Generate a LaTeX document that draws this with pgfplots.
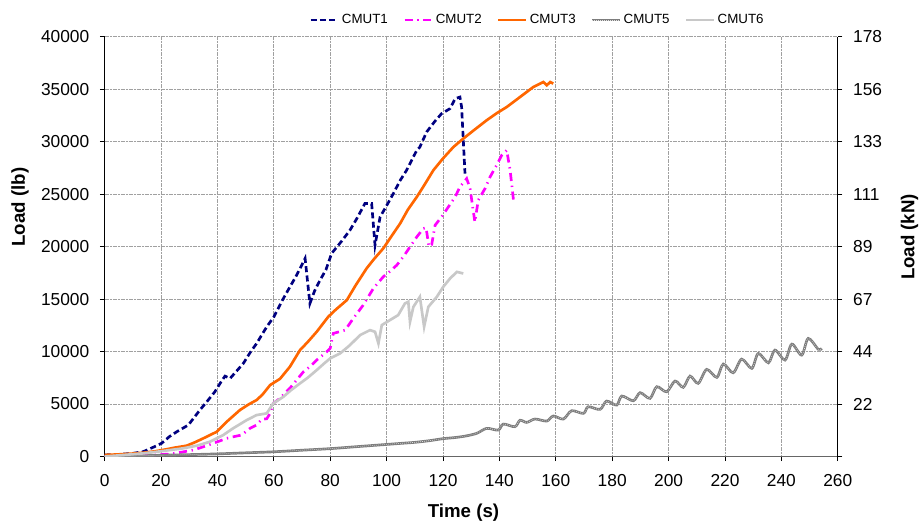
\documentclass[border=0pt]{standalone}
\usepackage{pgfplots}
\pgfplotsset{compat=1.18}
\usepackage{fontspec}
\setmainfont{Liberation Sans}
\definecolor{c1}{RGB}{0,0,128}
\definecolor{c2}{RGB}{255,0,255}
\definecolor{c3}{RGB}{255,102,0}
\definecolor{c5}{RGB}{125,125,125}
\definecolor{c6}{RGB}{200,200,200}
\definecolor{gridc}{RGB}{160,160,160}
\begin{document}
\begin{tikzpicture}
\path[use as bounding box] (-78.45pt,-52.125pt) rectangle (612.3pt,342.375pt);
\begin{axis}[
  at={(0pt,0pt)}, anchor=south west,
  scale only axis, width=549.9pt, height=314.85pt,
  xmin=0, xmax=260, ymin=0, ymax=40000,
  axis x line=bottom, axis y line=left,
  axis line style={-},
  y axis line style={black, line width=0.9pt},
  x axis line style={black!60, line width=1.4pt},
  xtick={0,20,...,260}, ytick={0,5000,...,40000},
  scaled y ticks=false, scaled x ticks=false,
  grid=major,
  major grid style={gridc, line width=0.6pt, dash pattern=on 1.5pt off 0.5pt},
  tick align=outside, major tick length=3.5pt,
  tick style={black, line width=0.6pt},
  /pgf/number format/assume math mode=true,
  y tick label style={/pgf/number format/1000 sep={}, xshift=-4.5pt},
  x tick label style={yshift=-6.5pt},
  tick label style={font=\fontsize{13}{15}\selectfont},
  xlabel={Time (s)}, ylabel={Load (lb)},
  label style={font=\bfseries\fontsize{14}{16}\selectfont},
  xlabel style={at={(axis description cs:0.4895,-0.1346)}, anchor=center},
  ylabel style={at={(axis description cs:-0.1154,0.594)}, anchor=center},
  legend style={at={(0.2788,1)}, anchor=west, yshift=12.5pt, draw=none, fill=none,
    inner sep=0pt, font=\fontsize{10}{12}\selectfont,
    nodes={inner sep=1.5pt},
    /tikz/every even column/.append style={column sep=10pt}},
  legend columns=5,
  legend image code/.code={\draw[#1] (0pt,0pt) -- (21pt,0pt);},
]
\addplot[c1, line width=2pt, dash pattern=on 4.5pt off 2.5pt] coordinates {
(0,150) (5,200) (10,300) (13.7,460) (17,850) (20.2,1255) (23,1900) (25.6,2360) (29.7,3000) (33.8,4430) (36.5,5300) (39.1,6170) (41.5,7200) (42.7,7660) (44.5,7440) (47,8200) (49.2,8870) (51.6,9900) (53.9,10770) (57.5,12360) (60,13300) (63.4,15060) (65.8,16200) (68.1,17280) (71.1,18870) (72.8,14580) (74.5,15800) (76.4,16800) (78.5,17800) (80.5,19350) (84,20500) (87,21560) (89.5,22700) (92.3,24100) (94.7,24100) (95.9,20130) (97.7,22830) (100,23900) (102.4,25060) (104.8,26300) (107.1,27280) (110.7,29180) (111.8,29490) (114.2,30920) (117,31900) (119.5,32670) (122.5,33150) (124.3,34100) (126,34250) (126.6,33300) (127.8,26960)
};
\addlegendentry{CMUT1}
\addplot[c2, line width=2pt, dash pattern=on 6pt off 3.5pt on 1pt off 3.5pt] coordinates {
(0,0) (10,80) (18,150) (23.2,240) (27,400) (31.5,620) (36.2,1030) (40,1400) (43.3,1730) (46,1900) (48.6,2050) (51.6,2690) (53.9,3000) (55.7,3540) (57.5,3600) (58.7,4110) (59.8,5060) (62.2,5540) (66,6600) (70.5,8070) (73,8600) (75.2,9190) (78.8,9980) (80,10300) (81.1,11730) (85.3,12040) (88.2,13160) (91.7,14420) (95.3,16010) (98.8,17120) (101,17600) (103.6,18230) (105.9,19020) (108.3,19970) (110.7,20920) (113,21720) (114,21800) (115,20000) (116,20200) (117.2,22040) (119.5,22830) (121.9,23780) (124.3,24730) (126,25690) (128.4,26480) (129.6,25530) (131.3,22350) (132.5,24420) (134.9,25530) (136.7,26640) (139,27750) (140.8,28700) (142.6,29180) (143.8,27280) (145,24420)
};
\addlegendentry{CMUT2}
\addplot[c3, line width=2pt] coordinates {
(0,150) (5,200) (10,280) (13.7,360) (18,500) (22,690) (25,850) (29.1,1030) (32,1350) (35,1730) (39.8,2360) (43.3,3310) (48,4430) (51,4950) (53.9,5380) (56,5900) (58.7,6810) (62.2,7400) (65.7,8550) (69.3,10140) (72,10900) (75.2,11880) (79.3,13310) (82,14000) (85.9,14900) (89,16300) (92.9,17920) (95.5,18800) (98.8,19820) (101.5,20900) (104.8,22200) (107.5,23500) (110.7,24730) (113,25700) (116.6,27280) (120,28400) (123.7,29490) (127.2,30290) (131,31100) (135.5,32040) (139,32700) (142.6,33300) (147.3,34250) (152,35200) (155.6,35680) (156.8,35370) (158,35680) (159.1,35530)
};
\addlegendentry{CMUT3}
\addplot[c5, line width=2pt, smooth, tension=0.5, postaction={draw=white!75!gray, line width=0.5pt, densely dotted}] coordinates {
(0,0) (10,50) (20,120) (30,180) (40,250) (50,350) (60,450) (70,600) (80,750) (90,950) (100,1150) (105,1250) (110,1350) (115,1500) (120,1700) (124,1800) (128,1950) (132,2210) (135.5,2680) (139.6,2520) (141.4,3090) (145.5,2840) (147.3,3450) (149.7,3250) (152.6,3570) (156.8,3380) (159.1,3860) (162.7,3570) (165.6,4360) (169.8,4110) (171.5,4740) (175.7,4490) (178,5280) (181.6,4900) (183.4,5760) (187.5,5310) (189.9,6080) (193.4,5540) (195.8,6650) (199.3,6170) (202.3,7190) (205.2,6590) (207.6,7660) (210.5,6970) (213.5,8300) (217.1,7540) (219.4,8810) (222.9,7980) (225.9,9280) (229.5,8400) (231.8,9820) (235.4,8930) (237.7,10140) (241.3,9190) (243.7,10710) (247.2,9660) (249.5,11250) (253.1,10210) (254.3,10300)
};
\addlegendentry{CMUT5}
\addplot[c6, line width=2pt] coordinates {
(0,0) (7,150) (13.7,300) (20,500) (27.9,780) (33,1050) (37.4,1410) (42.1,2050) (45.6,2690) (50.4,3470) (53.9,3950) (57.5,4110) (59.8,5060) (63.4,5690) (66,6300) (69.3,6970) (72,7500) (75.2,8230) (78,8900) (80,9350) (83.5,9820) (87,10610) (90.6,11570) (94.1,12040) (95.9,11880) (97.1,10780) (98.3,12520) (101.2,13000) (104.1,13470) (106.5,14580) (107.7,14740) (108.3,12830) (109.5,14260) (111.8,15210) (113.3,12360) (114.8,14260) (117.8,15210) (120.1,16170) (122.5,16960) (124.9,17590) (127.2,17440)
};
\addlegendentry{CMUT6}
\end{axis}
\begin{axis}[
  at={(0pt,0pt)}, anchor=south west,
  scale only axis, width=549.9pt, height=314.85pt,
  xmin=0, xmax=260, ymin=0, ymax=40000,
  axis x line=none, axis y line=right,
  axis line style={-, black, line width=0.9pt},
  ytick={0,5000,...,40000}, scaled y ticks=false,
  yticklabels={,22,44,67,89,111,133,156,178},
  tick align=outside, major tick length=3.5pt,
  tick style={black, line width=0.6pt},
  y tick label style={xshift=4.5pt},
  tick label style={font=\fontsize{13}{15}\selectfont},
  ylabel={Load (kN)},
  label style={font=\bfseries\fontsize{14}{16}\selectfont},
  ylabel style={at={(axis description cs:1.098,0.523)}, anchor=center},
]
\end{axis}
\end{tikzpicture}
\end{document}
